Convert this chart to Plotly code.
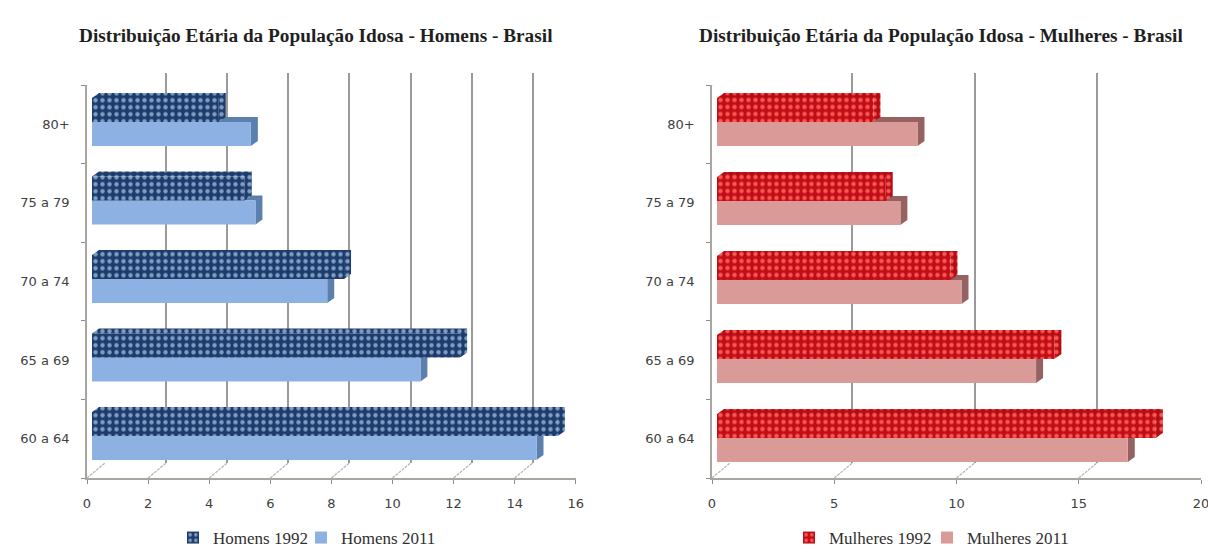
import plotly.graph_objects as go

W, H = 1208, 554

age_groups = ["60 a 64", "65 a 69", "70 a 74", "75 a 79", "80+"]
homens_1992 = [15.25, 12.05, 8.25, 5.0, 4.15]
homens_2011 = [14.55, 10.75, 7.7, 5.35, 5.2]
mulheres_1992 = [17.95, 13.8, 9.55, 6.9, 6.4]
mulheres_2011 = [16.8, 13.05, 10.0, 7.5, 8.2]

BAR_PX = 24
DEPTH_X, DEPTH_Y = 7, 5
WALL_X, WALL_Y = 18, 15

fig = go.Figure()
layout = {}
axis_no = [0]


def fx(px):
    return px / W


def fy(py):
    return 1 - py / H


def new_axes(x_px, y_px, x_range, **xkw):
    """Register an x/y axis pair covering the given pixel box."""
    axis_no[0] += 1
    n = axis_no[0]
    suffix = "" if n == 1 else str(n)
    base = dict(showgrid=False, zeroline=False, showline=False, showticklabels=False, ticks="")
    xa = dict(base, domain=[fx(x_px[0]), fx(x_px[1])], range=x_range, anchor="y" + suffix, fixedrange=True)
    ya = dict(base, domain=[fy(y_px[1]), fy(y_px[0])], range=[-0.5, 4.5], anchor="x" + suffix, fixedrange=True)
    xa.update(xkw)
    layout["xaxis" + suffix] = xa
    layout["yaxis" + suffix] = ya
    return "x" + suffix, "y" + suffix, layout["yaxis" + suffix]


def faces(values, offset, width, dx, dy):
    """Outline of the top and end faces of each extruded bar, in data units."""
    xs, ys = [], []
    for i, v in enumerate(values):
        low, high = i + offset, i + offset + width
        xs += [0, dx, v + dx, v, None, v, v + dx, v + dx, v, None]
        ys += [high, high + dy, high + dy, high, None, low, low + dy, high + dy, high, None]
    return xs, ys


def add_legend(legend_id, x_px):
    layout[legend_id] = dict(
        x=fx(x_px), y=fy(538), xanchor="left", yanchor="middle", orientation="h",
        bgcolor="rgba(0,0,0,0)",
        font=dict(family="Liberation Serif", size=17, color="#303030"), itemclick=False, itemdoubleclick=False,
    )


def panel(title, title_x, x0_px, scale, x_max, x_ticks, centre_bottom, step, old, new, names,
          old_style, new_style, legend_ids, legend_xs):
    x_end = x0_px + scale * x_max
    width = BAR_PX / step
    dx, dy = DEPTH_X / scale, DEPTH_Y / step
    idx = list(range(len(age_groups)))

    # back wall with its gridlines
    wall_end = min(x0_px + WALL_X + scale * x_max, W)
    wx, wy, _ = new_axes(
        (x0_px + WALL_X, wall_end), (73, 463), [0, (wall_end - x0_px - WALL_X) / scale],
        showgrid=True, gridcolor="#9a9a9a", gridwidth=1.5, tickvals=x_ticks,
    )
    fig.add_trace(go.Scatter(x=[0], y=[0], mode="none", xaxis=wx, yaxis=wy, showlegend=False, hoverinfo="skip"))

    # visible axes along the front edge of the floor
    ax, ay, y_axis = new_axes(
        (x0_px, x_end), (85, 478), [0, x_max],
        showline=True, linecolor="#a9a6a2", linewidth=1.5, ticks="outside", ticklen=4,
        tickcolor="#8c8c8c", tickvals=x_ticks, showticklabels=True, ticklabelstandoff=9,
        ticklabeloverflow="allow",
        tickfont=dict(family="DejaVu Sans", size=13, color="#404040"),
    )
    y_axis.update(
        showline=True, linecolor="#a9a6a2", linewidth=1.5, tickvals=idx, ticktext=age_groups,
        showticklabels=True, ticklabelstandoff=13, tickfont=dict(family="DejaVu Sans", size=13, color="#404040"),
        minor=dict(tickvals=[i - 0.5 for i in range(len(age_groups) + 1)], ticks="outside", ticklen=4, tickcolor="#8c8c8c"),
    )
    floor_x, floor_y = [], []
    wx_u, wy_u = WALL_X / scale, WALL_Y / step
    for t in x_ticks:
        floor_x += [t, t + wx_u, None]
        floor_y += [-0.5, -0.5 + wy_u, None]
    floor_x += [0, wx_u]
    floor_y += [4.5, 4.5 + 12 / step]
    fig.add_trace(go.Scatter(
        x=floor_x, y=floor_y, mode="lines", line=dict(color="#b4b4b4", width=1.2, dash="3px,1px"),
        xaxis=ax, yaxis=ay, showlegend=False, hoverinfo="skip", cliponaxis=False,
    ))

    plane_x = (x0_px + 5, x0_px + 5 + scale * x_max)
    plane_y = (centre_bottom - step * 4.5, centre_bottom + step * 0.5)

    # faces of the later series sit behind every front face
    dx1, dy1, _ = new_axes(plane_x, plane_y, [0, x_max])
    xs, ys = faces(new, -width, width, dx, dy)
    fig.add_trace(go.Scatter(
        x=xs, y=ys, mode="lines", fill="toself", fillcolor=new_style["side"], line=dict(width=0),
        xaxis=dx1, yaxis=dy1, showlegend=False, hoverinfo="skip", cliponaxis=False,
    ))

    bx, by, _ = new_axes(plane_x, plane_y, [0, x_max])
    fig.add_trace(go.Bar(
        y=idx, x=new, orientation="h", width=width, offset=-width, name=names[1],
        marker=dict(color=new_style["front"], line=dict(width=0)),
        xaxis=bx, yaxis=by, legend=legend_ids[1], showlegend=True, cliponaxis=False,
    ))
    dots = dict(shape=".", size=7, solidity=0.32, fgcolor=old_style["fg"], fillmode="replace")
    fig.add_trace(go.Bar(
        y=idx, x=old, orientation="h", width=width, offset=0, name=names[0],
        marker=dict(color=old_style["front"], pattern=dict(dots, bgcolor=old_style["front"]), line=dict(width=0)),
        xaxis=bx, yaxis=by, legend=legend_ids[0], showlegend=True, cliponaxis=False,
    ))
    xs, ys = faces(old, 0, width, dx, dy)
    fig.add_trace(go.Scatter(
        x=xs, y=ys, mode="lines", fill="toself", fillcolor=old_style["side"], line=dict(width=0),
        fillpattern=dict(dots, bgcolor=old_style["side"]),
        xaxis=bx, yaxis=by, showlegend=False, hoverinfo="skip", cliponaxis=False,
    ))

    layout.setdefault("annotations", []).append(dict(
        text="<b>%s</b>" % title, x=fx(title_x), y=fy(35), xref="paper", yref="paper", showarrow=False,
        xanchor="center", yanchor="middle",
        font=dict(family="Liberation Serif", size=19.3, color="#1f1f1f"),
    ))
    for legend_id, x_px in zip(legend_ids, legend_xs):
        add_legend(legend_id, x_px)


panel(
    "Distribuição Etária da População Idosa - Homens - Brasil", 316, 87, 30.55, 16, [0, 2, 4, 6, 8, 10, 12, 14, 16],
    436, 78.5, homens_1992, homens_2011, ["Homens 1992", "Homens 2011"],
    dict(front="#1d3c6b", side="#1d3c6b", fg="#7f9cc4"), dict(front="#8db1e3", side="#5b80ad"),
    ("legend", "legend2"), (173, 301),
)
panel(
    "Distribuição Etária da População Idosa - Mulheres - Brasil", 941, 712, 24.45, 20, [0, 5, 10, 15, 20],
    438, 79, mulheres_1992, mulheres_2011, ["Mulheres 1992", "Mulheres 2011"],
    dict(front="#c00d18", side="#b40c16", fg="#f9574f"), dict(front="#d99a98", side="#966161"),
    ("legend3", "legend4"), (789, 927),
)

fig.update_layout(
    width=W, height=H, autosize=False, margin=dict(l=0, r=0, t=0, b=0, autoexpand=False),
    paper_bgcolor="white", plot_bgcolor="rgba(0,0,0,0)", barmode="overlay", **layout,
)
fig.write_html("out.html")
